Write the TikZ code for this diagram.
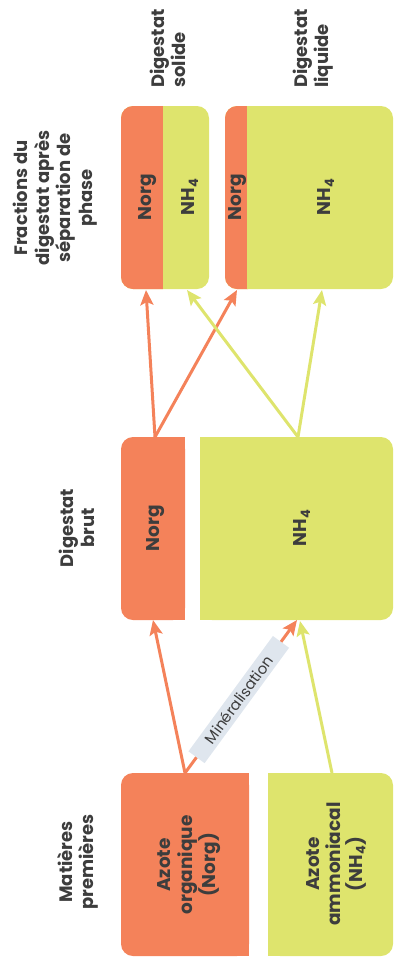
\documentclass[tikz,border=0pt]{standalone}
\usepackage{fontspec}
\setmainfont{Poppins}
\usetikzlibrary{arrows.meta}
\definecolor{org}{HTML}{F4825A}
\definecolor{ylw}{HTML}{DEE46D}
\definecolor{txt}{HTML}{3D3D3D}
\definecolor{lbl}{HTML}{DFE6EE}
\begin{document}
\begin{tikzpicture}[x=1pt,y=-1pt,
  hd/.style={rotate=90, align=center, font=\bfseries\fontsize{18}{21.5}\selectfont, text=txt, inner sep=0pt},
  bx/.style={rotate=90, align=center, font=\bfseries\fontsize{18.5}{21.5}\selectfont, text=txt, inner sep=0pt},
  rbox/.style={rounded corners=12pt},
  oarr/.style={draw=org, line width=3pt, -{Stealth[length=15pt,width=13pt,inset=3pt]}},
  yarr/.style={draw=ylw, line width=3pt, -{Stealth[length=15pt,width=13pt,inset=3pt]}},
  minlab/.style={sloped, fill=lbl, minimum width=143pt, minimum height=20pt, inner sep=0pt, text=txt, font=\fontsize{15}{17}\selectfont}]
\useasboundingbox (0,0) rectangle (394,959);

% ---------- top row boxes (solid / liquid fractions)
\fill[ylw, rbox] (121,106) rectangle (209,289);
\fill[org, rbox] (121,106) rectangle (175,289);
\fill[ylw] (163,106) rectangle (180,289);

\fill[ylw, rbox] (225,106) rectangle (393,289);
\fill[org, rbox] (225,106) rectangle (260,289);
\fill[ylw] (247,106) rectangle (265,289);

% ---------- middle row boxes (digestat brut)
\fill[org, rbox] (121,437) rectangle (185,620);
\fill[org] (165,437) rectangle (185,620);
\fill[ylw, rbox] (200,437) rectangle (393,620);
\fill[ylw] (200,437) rectangle (220,620);

% ---------- bottom row boxes (matieres premieres)
\fill[org, rbox] (121,773) rectangle (249,956);
\fill[org] (229,773) rectangle (249,956);
\fill[ylw, rbox] (268,773) rectangle (393,956);
\fill[ylw] (268,773) rectangle (288,956);

% ---------- headings
\node[hd] (tFr) at (55,198) {Fractions du\\digestat après\\séparation de\\phase};
\node[hd, anchor=west, align=left] (tSol) at (168,88) {Digestat\\solide};
\node[hd, anchor=west, align=left] (tLiq) at (313,88) {Digestat\\liquide};
\node[hd] (tBrut) at (77,528) {Digestat\\brut};
\node[hd] (tMat) at (78,862) {Matières\\premières};

% ---------- box texts
\node[bx] (sNo) at (148,197) {Norg};
\node[bx] (sNH) at (190,197) {NH\textsubscript{4}};
\node[bx] (lNo) at (238,197) {Norg};
\node[bx] (lNH) at (326,197) {NH\textsubscript{4}};
\node[bx] (mNo) at (156,528) {Norg};
\node[bx] (mNH) at (302,528) {NH\textsubscript{4}};
\node[bx] (bNo) at (189,865) {Azote\\organique\\(Norg)};
\node[bx] (bNH) at (336,864) {Azote\\ammoniacal\\(NH\textsubscript{4})};

% ---------- connector end points
\coordinate (sNoB) at (146,290);
\coordinate (sNHB) at (187,290);
\coordinate (lNoB) at (237,290);
\coordinate (lNHB) at (322,290);
\coordinate (mNoT) at (155,437);
\coordinate (mNHT) at (298,437);
\coordinate (mNoB) at (153,620);
\coordinate (mNHB) at (297,620);
\coordinate (mNHB2) at (300,621);
\coordinate (bNoT) at (185,773);
\coordinate (bNHT) at (332,773);

% ---------- connectors
\draw[oarr] (mNoT) -- (sNoB);
\draw[oarr] (mNoT) -- (lNoB);
\draw[yarr] (mNHT) -- (sNHB);
\draw[yarr] (mNHT) -- (lNHB);

\draw[oarr] (bNoT) -- (mNoB);
\draw[yarr] (bNHT) -- (mNHB2);
\draw[oarr] (bNoT) -- node[minlab, pos=0.48] (minL) {Minéralisation} (mNHB);
\end{tikzpicture}
\end{document}
